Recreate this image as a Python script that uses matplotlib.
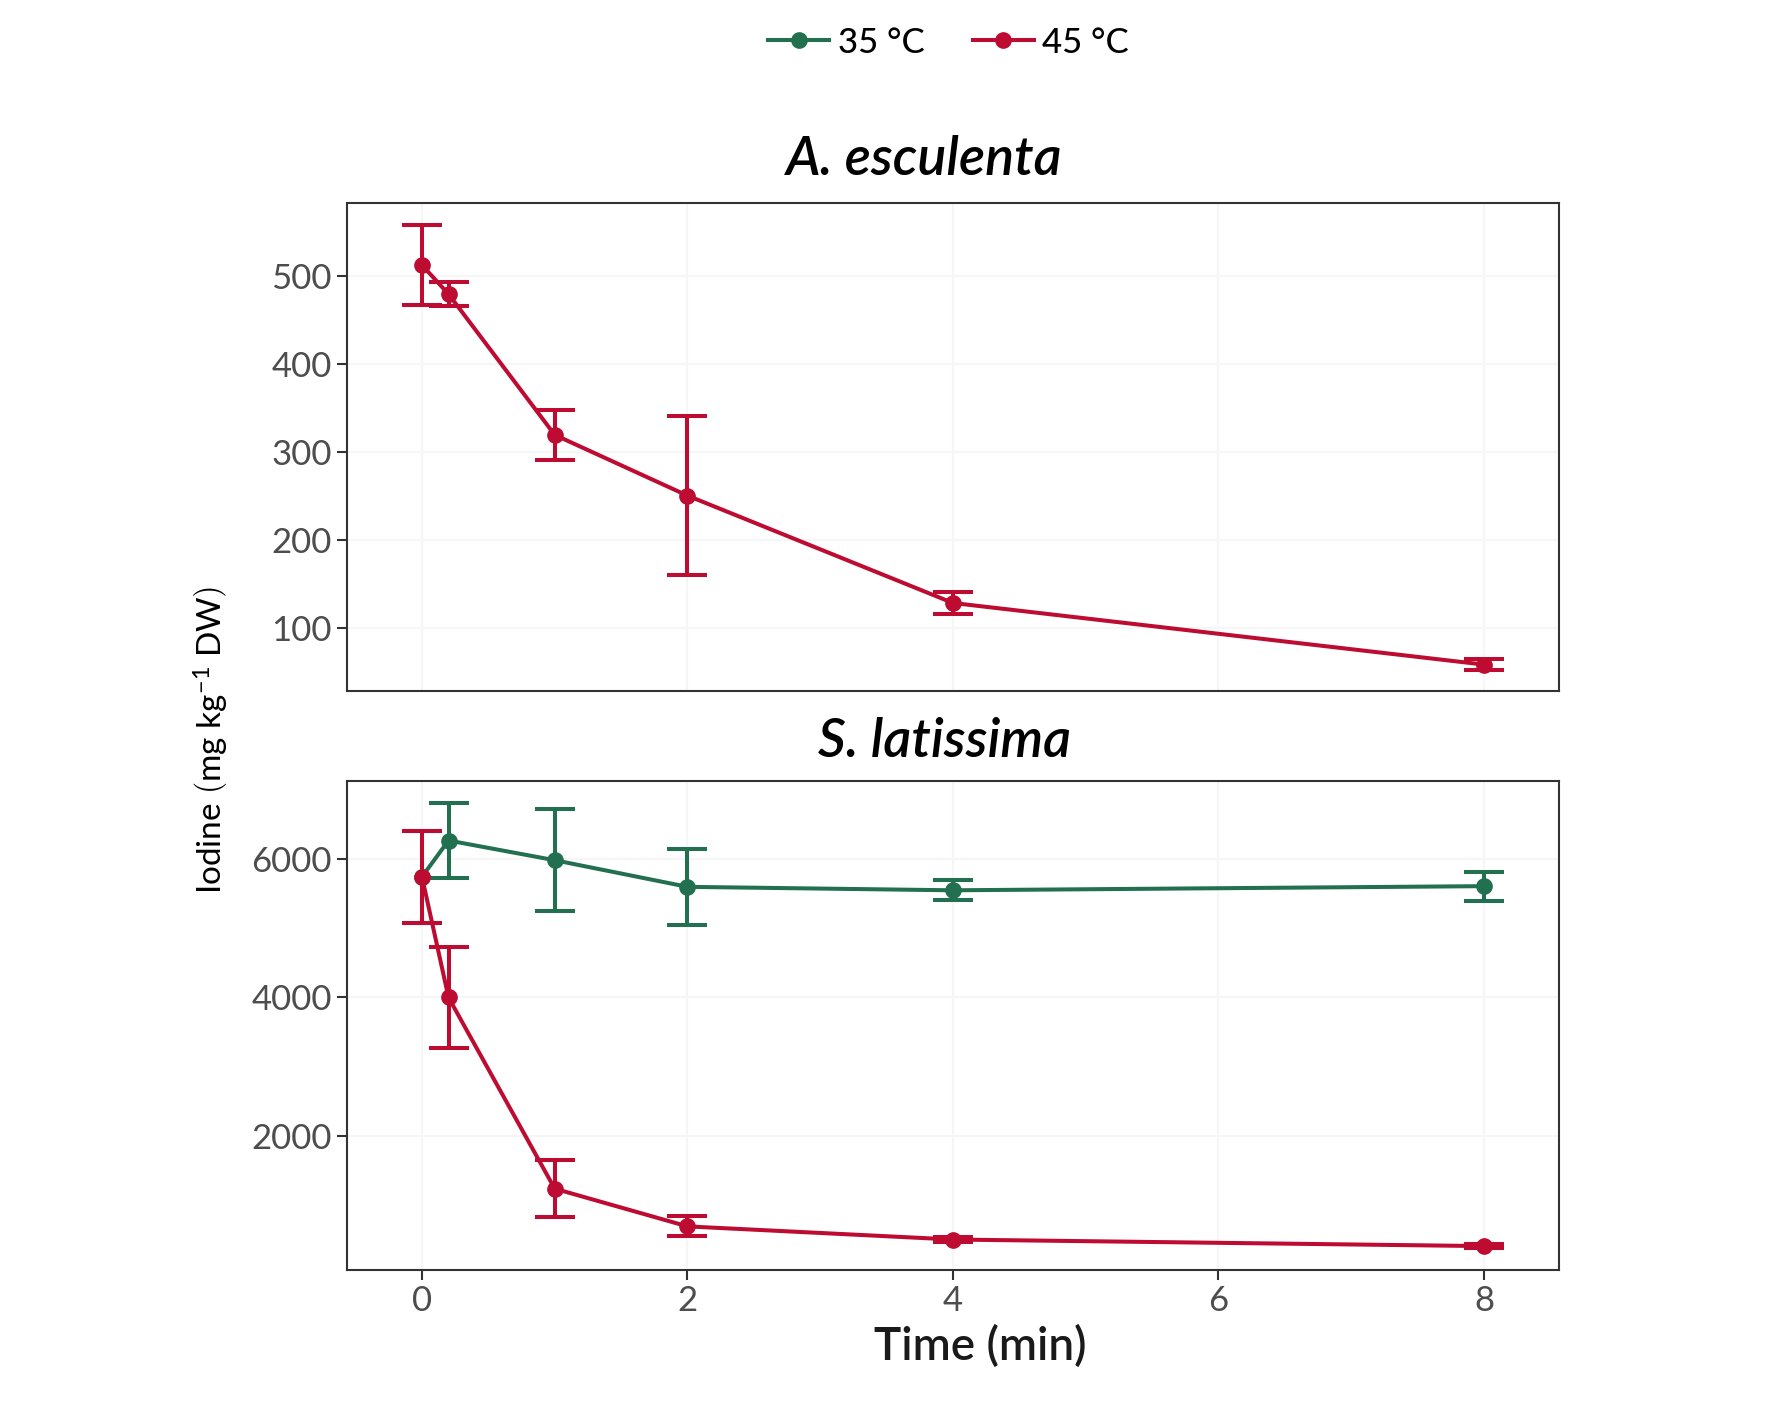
import matplotlib
matplotlib.use("Agg")
import matplotlib.pyplot as plt
import numpy as np

plt.rcParams['font.family'] = ['Lato', 'DejaVu Sans']
plt.rcParams['mathtext.fontset'] = 'custom'
plt.rcParams['mathtext.rm'] = 'Lato'
plt.rcParams['mathtext.it'] = 'Lato:italic'

# data
time = [0, 0.2, 1, 2, 4, 8]

# A. esculenta, 45 °C
ae_45 = [512, 479, 319, 250, 128, 58]
ae_45_err = [45, 14, 28, 90, 13, 6]

# S. latissima
sl_35 = [5745, 6270, 5985, 5600, 5550, 5610]
sl_35_err = [665, 540, 740, 545, 145, 210]
sl_45 = [5745, 4000, 1235, 690, 500, 405]
sl_45_err = [665, 730, 415, 145, 30, 25]

green = '#22704f'
red = '#bd0b31'

fig = plt.figure(figsize=(17.73, 14.18), dpi=100)
ax1 = fig.add_axes([0.1957, 0.5127, 0.6836, 0.3438])
ax2 = fig.add_axes([0.1957, 0.1044, 0.6836, 0.3448])

def draw(ax, y, err, color):
    ax.errorbar(time, y, yerr=err, color=color, lw=2.9, elinewidth=2.9,
                capsize=14.4, capthick=2.9, marker='o', markersize=11)

draw(ax1, ae_45, ae_45_err, red)
draw(ax2, sl_35, sl_35_err, green)
draw(ax2, sl_45, sl_45_err, red)

for ax in (ax1, ax2):
    ax.set_xlim(-0.565, 8.565)
    ax.set_xticks([0, 2, 4, 6, 8])
    ax.grid(True, color='#f6f6f6', lw=1.6)
    ax.set_axisbelow(True)
    for s in ax.spines.values():
        s.set_color('#333333')
        s.set_linewidth(1.5)
    ax.tick_params(direction='out', length=7, width=1.5, color='#333333',
                   labelsize=25, labelcolor='#4d4d4d', pad=4)

ax1.set_ylim(28, 582)
ax1.set_yticks([100, 200, 300, 400, 500])
ax1.tick_params(axis='x', length=0, labelbottom=False)

ax2.set_ylim(60, 7130)
ax2.set_yticks([2000, 4000, 6000])

fig.text(0.5214, 0.8766, 'A. esculenta', ha='center', va='baseline',
         fontsize=39, style='italic', fontweight='semibold')
fig.text(0.533, 0.4662, 'S. latissima', ha='center', va='baseline',
         fontsize=39, style='italic', fontweight='semibold')

fig.text(0.5527, 0.0409, 'Time (min)', ha='center', va='baseline',
         fontsize=33, fontweight='semibold', color='#1a1a1a')
fig.text(0.119, 0.478, r'Iodine $\left(\mathrm{mg\ kg^{-1}\ DW}\right)$',
         rotation=90, ha='center', va='center', fontsize=24)

h35 = plt.Line2D([], [], color=green, lw=2.9, marker='o', markersize=11)
h45 = plt.Line2D([], [], color=red, lw=2.9, marker='o', markersize=11)
fig.legend([h35, h45], ['35 °C', '45 °C'], loc='center', bbox_to_anchor=(0.535, 0.970),
           ncol=2, frameon=False, handlelength=1.75,
           handletextpad=0.25, columnspacing=1.4,
           prop={'size': 25, 'weight': 'medium'})

fig.savefig('out.png', dpi=100)
